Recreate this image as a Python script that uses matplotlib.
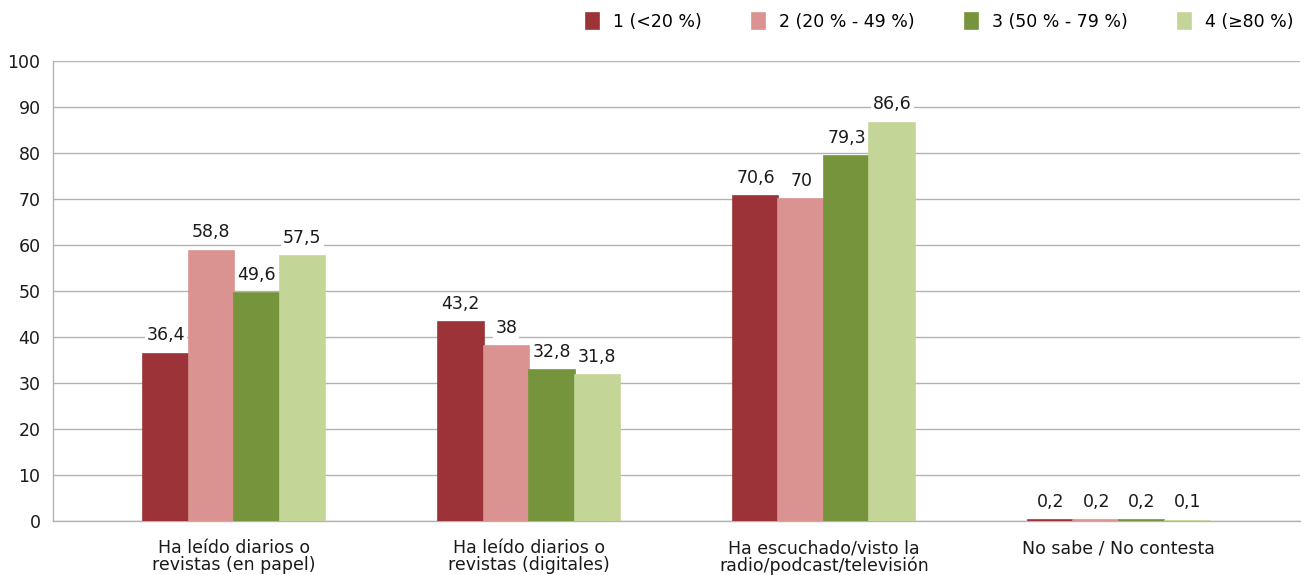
import matplotlib.pyplot as plt
import numpy as np

plt.rcParams["font.family"] = ["DejaVu Sans"]

categories = [
    "Ha leído diarios o\nrevistas (en papel)",
    "Ha leído diarios o\nrevistas (digitales)",
    "Ha escuchado/visto la\nradio/podcast/televisión",
    "No sabe / No contesta",
]
series_names = ["1 (<20 %)", "2 (20 % - 49 %)", "3 (50 % - 79 %)", "4 (≥80 %)"]
values = [
    [36.4, 43.2, 70.6, 0.2],
    [58.8, 38.0, 70.0, 0.2],
    [49.6, 32.8, 79.3, 0.2],
    [57.5, 31.8, 86.6, 0.1],
]
colors = ["#9B3338", "#DA9391", "#76943B", "#C3D698"]

fs = 12.5


def fmt(v):
    s = f"{v:g}"
    return s.replace(".", ",")


fig = plt.figure(figsize=(13.04, 5.75), dpi=100)
ax = fig.add_axes([53 / 1304, 54 / 575, 1247 / 1304, 460 / 575])

x = np.arange(len(categories))
width = 0.1542
for i, (name, vals, c) in enumerate(zip(series_names, values, colors)):
    pos = x + (i - 1.5) * width
    ax.bar(pos, vals, width=width, color=c, edgecolor=c, linewidth=1.2,
           label=name, zorder=3)
    for p, v in zip(pos, vals):
        ax.text(p, v + 2.0, fmt(v), ha="center", va="bottom", fontsize=fs,
                color="#1a1a1a", zorder=4,
                bbox=dict(facecolor="white", edgecolor="none", pad=1.5))

ax.set_xlim(-0.614, 3.614)
ax.set_ylim(0, 100)
ax.set_yticks(range(0, 101, 10))
ax.yaxis.grid(True, color="#b3b3b3", linewidth=1.0, zorder=0)
ax.set_axisbelow(True)
ax.set_xticks(x)
ax.set_xticklabels(categories, fontsize=fs, color="#1a1a1a", linespacing=0.95)
ax.tick_params(axis="x", length=0, pad=13)
ax.tick_params(axis="y", length=0, pad=9, labelsize=fs, labelcolor="#1a1a1a")
for s in ["top", "right"]:
    ax.spines[s].set_visible(False)
for s in ["left", "bottom"]:
    ax.spines[s].set_color("#b3b3b3")
    ax.spines[s].set_linewidth(1.0)

ax.legend(loc="lower right", bbox_to_anchor=(0.995, 1.065), ncol=4, frameon=False,
          fontsize=fs, handlelength=0.75, handleheight=1.05, columnspacing=2.9,
          handletextpad=0.8, borderaxespad=0, borderpad=0)

fig.savefig("out.png", dpi=100)
